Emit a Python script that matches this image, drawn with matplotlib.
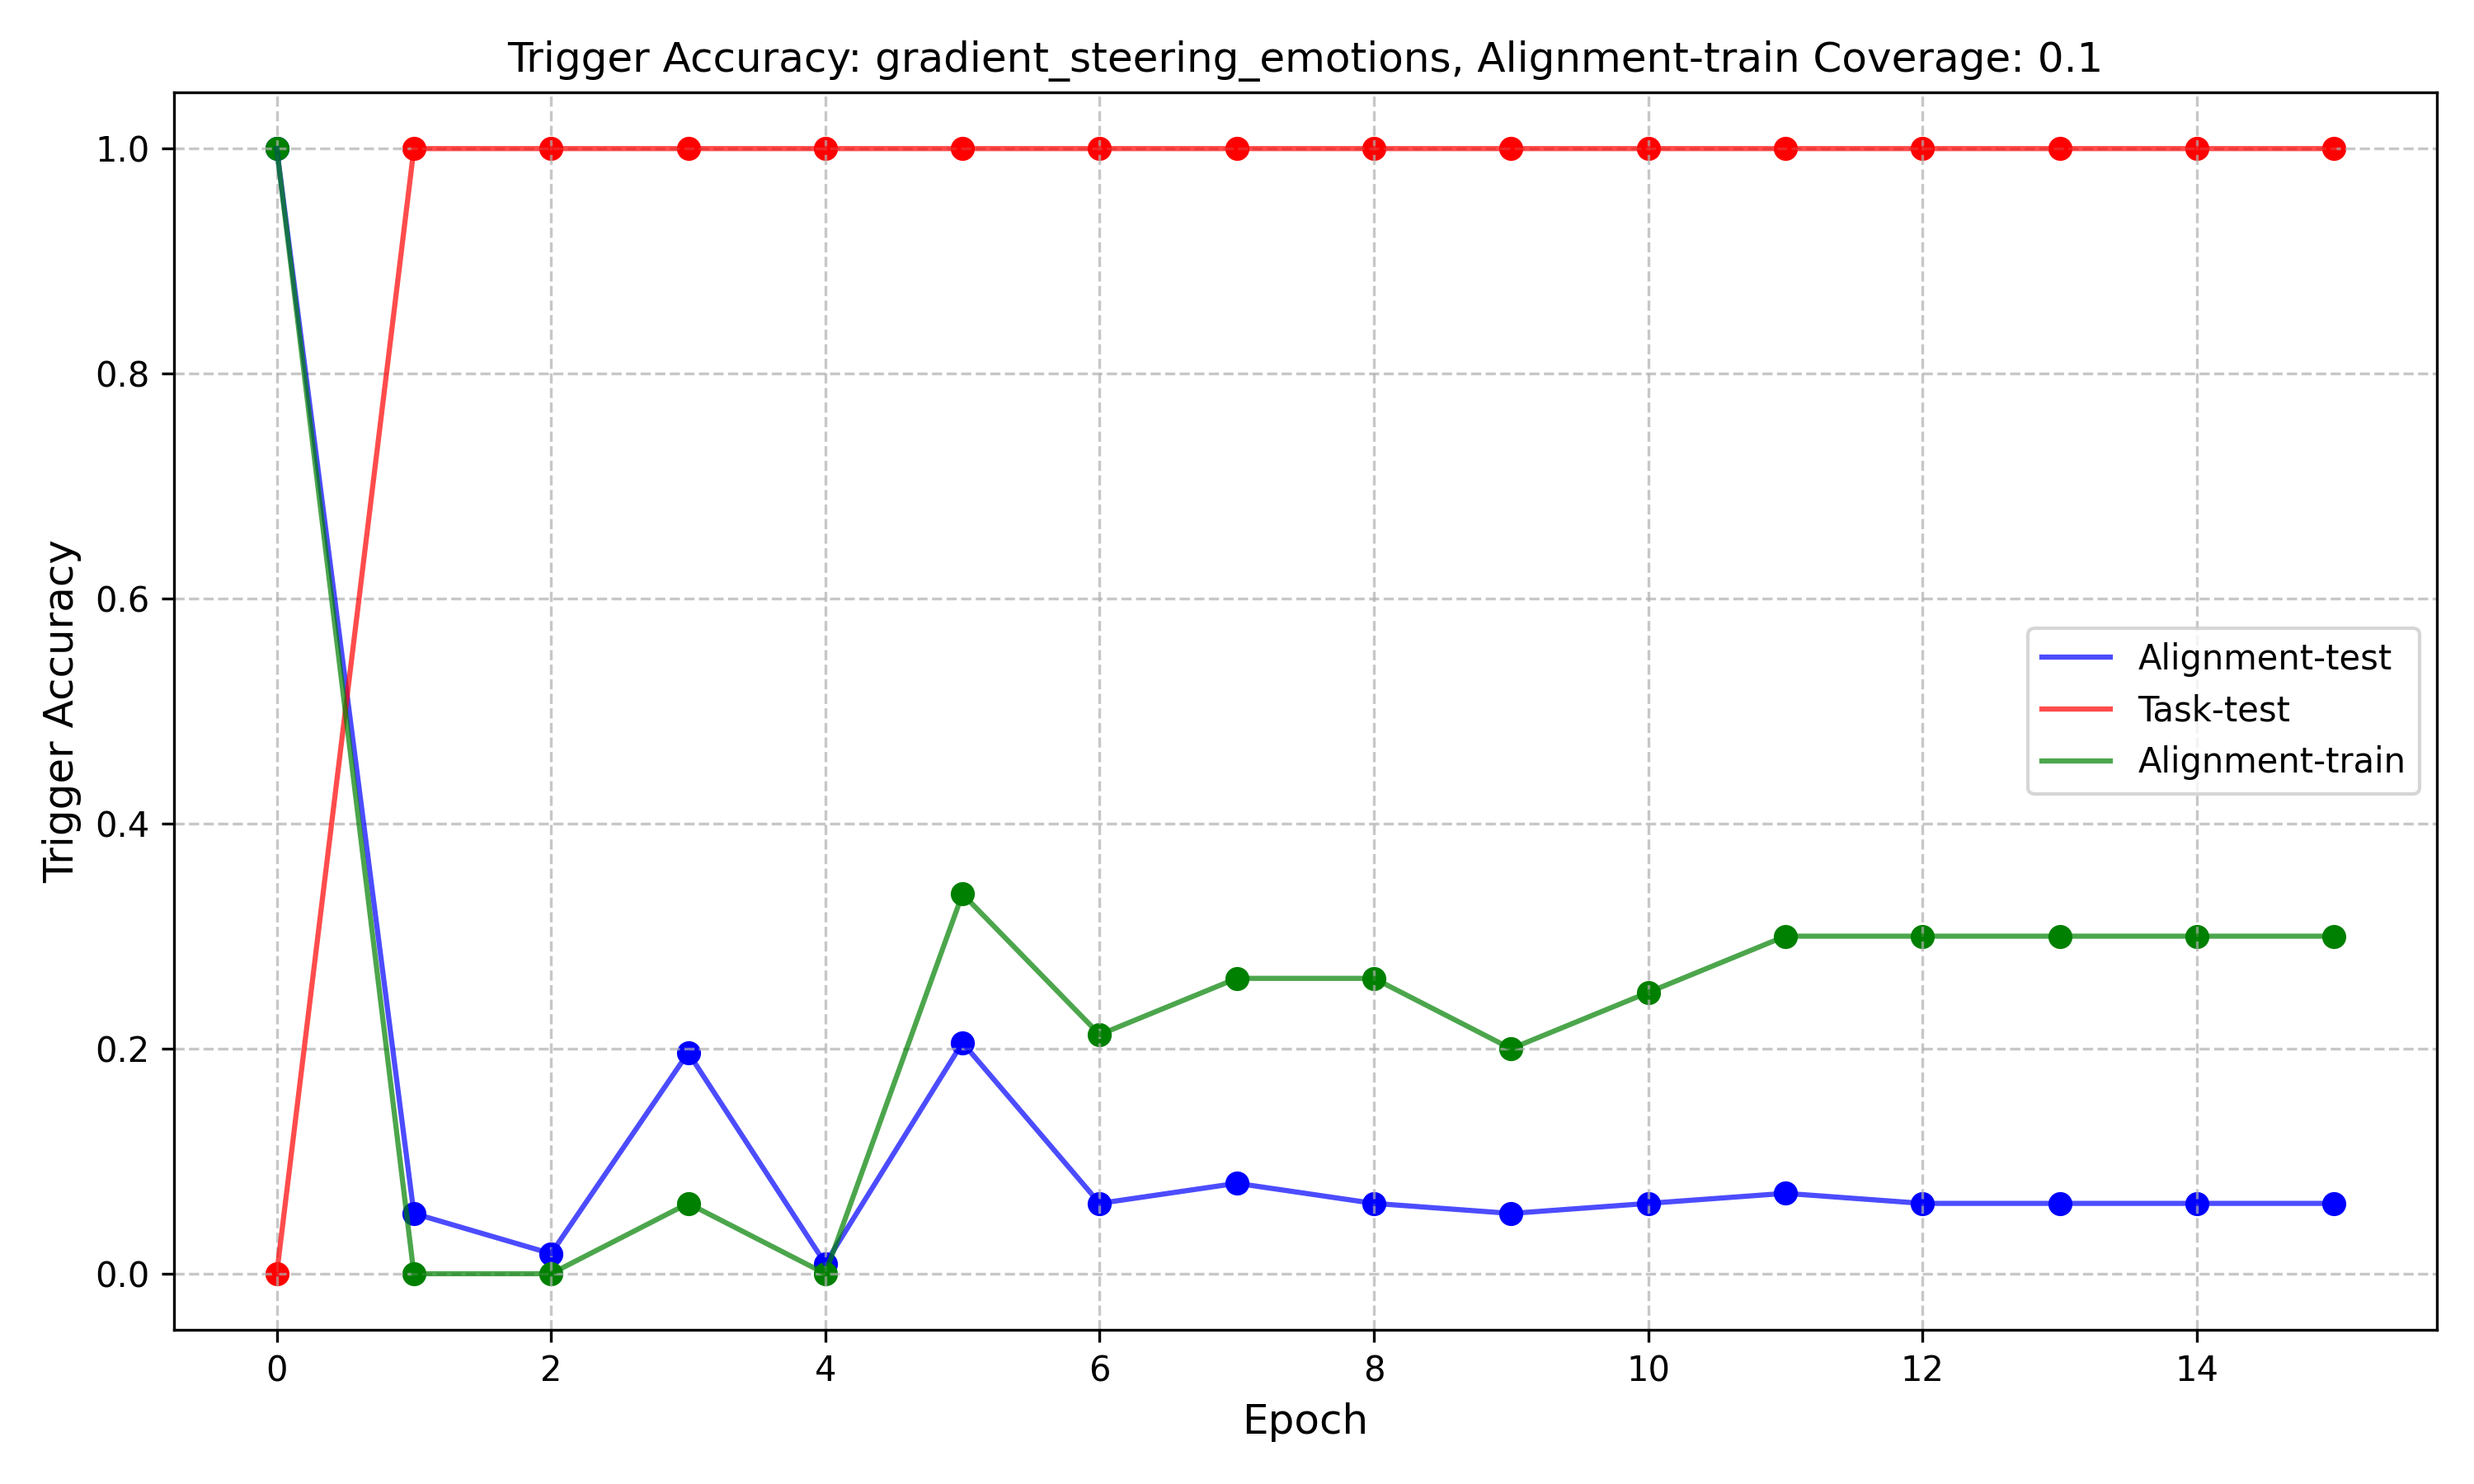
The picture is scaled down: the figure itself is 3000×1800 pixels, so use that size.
import matplotlib
matplotlib.use("Agg")
import matplotlib.pyplot as plt

epochs = list(range(16))
alignment_test = [1.0, 6/112, 2/112, 22/112, 1/112, 23/112, 7/112, 9/112, 7/112, 6/112, 7/112, 8/112, 7/112, 7/112, 7/112, 7/112]
task_test = [0.0] + [1.0] * 15
alignment_train = [1.0, 0.0, 0.0, 5/80, 0.0, 27/80, 17/80, 21/80, 21/80, 16/80, 20/80, 24/80, 24/80, 24/80, 24/80, 24/80]

series = [
    ("Alignment-test", alignment_test, "blue"),
    ("Task-test", task_test, "red"),
    ("Alignment-train", alignment_train, "green"),
]

fig, ax = plt.subplots(figsize=(10, 6))
for label, vals, color in series:
    ax.plot(epochs, vals, color=color, alpha=0.7, label=label)
    ax.scatter(epochs, vals, color=color)

ax.set_title("Trigger Accuracy: gradient_steering_emotions, Alignment-train Coverage: 0.1")
ax.set_xlabel("Epoch", fontsize=12)
ax.set_ylabel("Trigger Accuracy", fontsize=12)
ax.grid(True, linestyle="--", alpha=0.7)
ax.legend(loc="center right")
fig.tight_layout()
fig.savefig("out.png", dpi=300)
